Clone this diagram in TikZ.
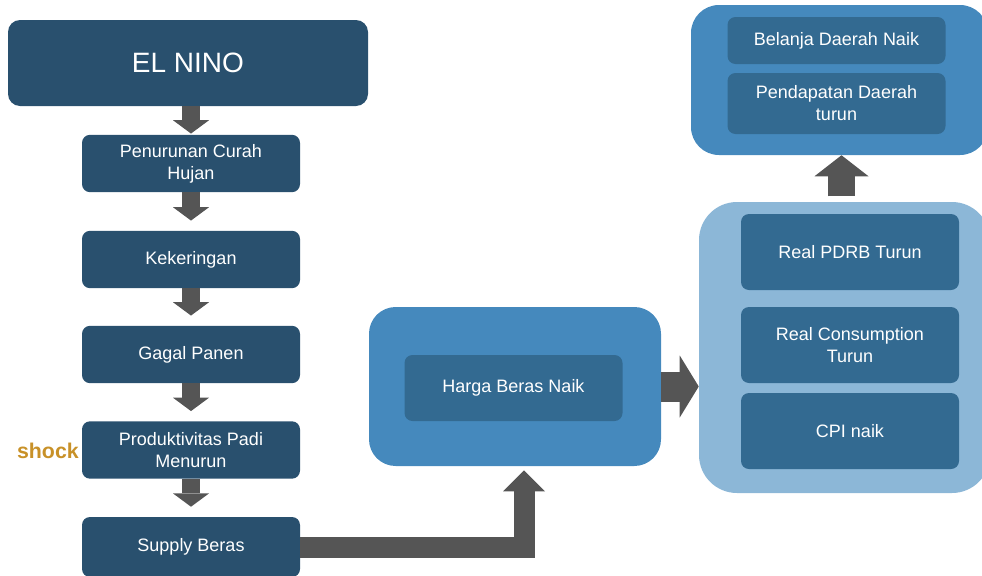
\documentclass[tikz,border=0pt]{standalone}
\usepackage{fontspec}
\setmainfont{Liberation Sans}
\usetikzlibrary{arrows.meta,calc}
\definecolor{navy}{RGB}{41,80,110}
\definecolor{innerblue}{RGB}{51,106,145}
\definecolor{midblue}{RGB}{69,137,189}
\definecolor{lightblue}{RGB}{140,183,215}
\definecolor{arrowgrey}{RGB}{85,85,85}
\definecolor{shockcol}{RGB}{200,145,40}
\begin{document}
\begin{tikzpicture}[x=0.75pt,y=-0.75pt,
	txt/.style={text=white,align=center,inner sep=0pt,font=\fontsize{13.5}{16.5}\selectfont},
	box/.style={txt,fill=navy,rounded corners=6pt,minimum width=163.5pt,minimum height=43pt},
	panel/.style={inner sep=0pt,rounded corners=#1},
	subbox/.style={txt,fill=innerblue,rounded corners=6pt,minimum width=163.5pt},
	downarr/.style={arrowgrey,line width=13.5pt,-{Triangle[width=27pt,length=10pt,line width=0pt]}},
	bentarr/.style={arrowgrey,line width=15.75pt,line join=miter,-{Triangle[width=31.5pt,length=15.75pt,line width=0pt]}},
	rightarr/.style={arrowgrey,line width=22.5pt,-{Triangle[width=46.5pt,length=14.25pt,line width=0pt]}},
	uparr/.style={arrowgrey,line width=20.25pt,-{Triangle[width=40.5pt,length=15.75pt,line width=0pt]}}]
	
	\useasboundingbox (0,0) rectangle (982,575);
	\clip (0,0) rectangle (982,575);
	
	\node[txt,fill=navy,rounded corners=9pt,minimum width=270pt,minimum height=64.5pt,font=\fontsize{21}{24}\selectfont] (elnino) at (188,63) {EL NINO};
	\node[box] (curah) at (191,163.5) {Penurunan Curah\\Hujan};
	\node[box] (keringan) at (191,259.5) {Kekeringan};
	\node[box] (gagal) at (191,354.5) {Gagal Panen};
	\node[box] (padi) at (191,450) {Produktivitas Padi\\Menurun};
	\node[box,minimum height=45pt] (supply) at (191,547) {Supply Beras};
	\node[anchor=east,inner sep=0pt,text=shockcol,font=\fontsize{16}{19}\bfseries] (shock) at (79,451) {shock};
	
	\node[panel=20pt,fill=midblue,minimum width=219pt,minimum height=119.25pt] (harga) at (515,386.5) {};
	\node[subbox,minimum height=49.5pt] (hargain) at (513.5,388) {Harga Beras Naik};
	
	\node[panel=28.5pt,fill=lightblue,minimum width=218.25pt,minimum height=218.25pt] (econ) at (844.5,347.5) {};
	\node[subbox,minimum height=57pt] (pdrb) at (850,252) {Real PDRB Turun};
	\node[subbox,minimum height=57pt] (cons) at (850,345) {Real Consumption\\Turun};
	\node[subbox,minimum height=57pt] (cpi) at (850,431) {CPI naik};
	
	\node[panel=21pt,fill=midblue,minimum width=222.75pt,minimum height=112.5pt] (region) at (839.5,80) {};
	\node[subbox,minimum height=35.25pt] (belanja) at (836.5,40.5) {Belanja Daerah Naik};
	\node[subbox,minimum height=45.75pt] (pendapatan) at (836.5,103.5) {Pendapatan Daerah\\turun};
	
	\draw[downarr] (curah.north |- elnino.south) -- ($(curah.north)+(0,-1)$);
	\foreach \a/\b in {curah/keringan,keringan/gagal,gagal/padi,padi/supply}
	\draw[downarr] (\a.south) -- ($(\b.north)+(0,-10)$);
	
	\draw[bentarr] (supply.east) -| ($(harga.south)+(9,4)$);
	\draw[rightarr] (harga.east) -- (harga.east -| econ.west);
	\draw[uparr] ($(region.south)+(2,41)$) -- ($(region.south)+(2,0)$);
\end{tikzpicture}
\end{document}
